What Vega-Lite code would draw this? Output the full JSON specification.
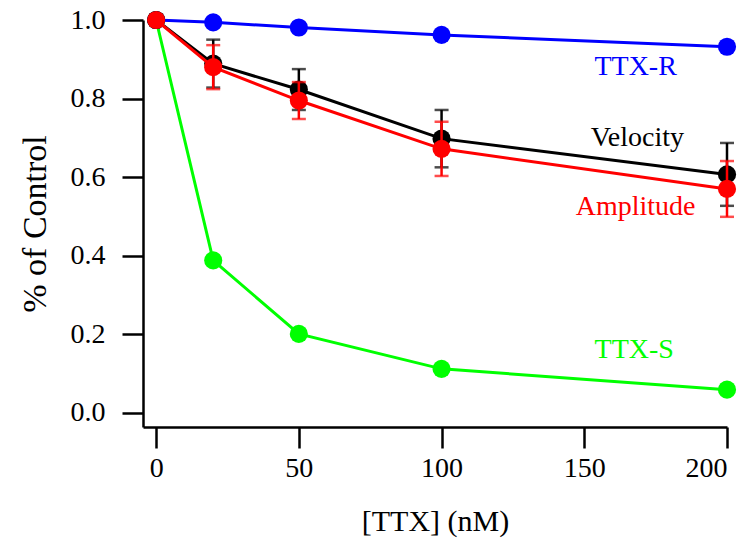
{
  "$schema": "https://vega.github.io/schema/vega-lite/v6.json",
  "width": 584,
  "height": 407,
  "autosize": {"type": "none"},
  "padding": {"left": 143, "top": 20, "right": 24, "bottom": 117},
  "config": {
    "font": "Liberation Serif",
    "view": {"stroke": null},
    "axis": {
      "grid": false,
      "domainColor": "black",
      "domainWidth": 2.5,
      "tickColor": "black",
      "tickWidth": 2.5,
      "tickSize": 21,
      "labelFont": "Liberation Serif",
      "labelFontSize": 28,
      "labelColor": "black",
      "titleFont": "Liberation Serif",
      "titleFontSize": 30,
      "titleFontWeight": "normal",
      "titleColor": "black"
    }
  },
  "datasets": {
    "pts": [
      {"s": "TTX-S", "x": 0, "y": 1.0, "err": 0},
      {"s": "TTX-S", "x": 20, "y": 0.388, "err": 0},
      {"s": "TTX-S", "x": 50, "y": 0.201, "err": 0},
      {"s": "TTX-S", "x": 100, "y": 0.112, "err": 0},
      {"s": "TTX-S", "x": 200, "y": 0.059, "err": 0},
      {"s": "TTX-R", "x": 0, "y": 1.0, "err": 0},
      {"s": "TTX-R", "x": 20, "y": 0.994, "err": 0},
      {"s": "TTX-R", "x": 50, "y": 0.981, "err": 0},
      {"s": "TTX-R", "x": 100, "y": 0.962, "err": 0},
      {"s": "TTX-R", "x": 200, "y": 0.932, "err": 0},
      {"s": "Velocity", "x": 0, "y": 1.0, "err": 0},
      {"s": "Velocity", "x": 20, "y": 0.889, "err": 0.061},
      {"s": "Velocity", "x": 50, "y": 0.823, "err": 0.052},
      {"s": "Velocity", "x": 100, "y": 0.698, "err": 0.073},
      {"s": "Velocity", "x": 200, "y": 0.607, "err": 0.08},
      {"s": "Amplitude", "x": 0, "y": 1.0, "err": 0},
      {"s": "Amplitude", "x": 20, "y": 0.88, "err": 0.056},
      {"s": "Amplitude", "x": 50, "y": 0.795, "err": 0.047},
      {"s": "Amplitude", "x": 100, "y": 0.672, "err": 0.069},
      {"s": "Amplitude", "x": 200, "y": 0.57, "err": 0.071}
    ],
    "labels": [
      {"label": "TTX-R", "x": 168, "y": 0.88, "c": "#0000ff"},
      {"label": "Velocity", "x": 168.6, "y": 0.7, "c": "#000000"},
      {"label": "Amplitude", "x": 168, "y": 0.524, "c": "#ff0000"},
      {"label": "TTX-S", "x": 167.5, "y": 0.16, "c": "#00ff00"}
    ]
  },
  "data": {"name": "pts"},
  "encoding": {
    "x": {
      "field": "x",
      "type": "quantitative",
      "scale": {"domain": [-4.6, 200], "nice": false, "zero": false},
      "axis": {"title": "[TTX] (nM)", "values": [0, 50, 100, 150, 200], "labelPadding": 6, "titlePadding": 24}
    },
    "y": {
      "field": "y",
      "type": "quantitative",
      "scale": {"domain": [-0.036, 1.0], "nice": false, "zero": false},
      "axis": {"title": "% of Control", "titleFontSize": 34, "values": [0, 0.2, 0.4, 0.6, 0.8, 1.0], "format": ".1f", "labelPadding": 17, "titlePadding": 18}
    }
  },
  "layer": [
    {
      "transform": [{"filter": "datum.s === 'TTX-S'"}],
      "layer": [
        {"mark": {"type": "line", "color": "#00ff00", "strokeWidth": 3}},
        {"mark": {"type": "circle", "color": "#00ff00", "size": 330, "opacity": 1}}
      ]
    },
    {
      "transform": [{"filter": "datum.s === 'TTX-R'"}],
      "layer": [
        {"mark": {"type": "line", "color": "#0000ff", "strokeWidth": 3}},
        {"mark": {"type": "circle", "color": "#0000ff", "size": 330, "opacity": 1}}
      ]
    },
    {
      "transform": [{"filter": "datum.s === 'Velocity'"}],
      "layer": [
        {"mark": {"type": "line", "color": "#000000", "strokeWidth": 3}},
        {"mark": {"type": "circle", "color": "#000000", "size": 330, "opacity": 1}},
        {
          "transform": [{"filter": "datum.err > 0"}],
          "mark": {"type": "errorbar", "color": "#000000", "thickness": 2.5, "ticks": {"size": 14, "thickness": 2.5}},
          "encoding": {"yError": {"field": "err"}}
        }
      ]
    },
    {
      "transform": [{"filter": "datum.s === 'Amplitude'"}],
      "layer": [
        {"mark": {"type": "line", "color": "#ff0000", "strokeWidth": 3}},
        {"mark": {"type": "circle", "color": "#ff0000", "size": 330, "opacity": 1}},
        {
          "transform": [{"filter": "datum.err > 0"}],
          "mark": {"type": "errorbar", "color": "#ff0000", "thickness": 2.5, "ticks": {"size": 14, "thickness": 2.5}},
          "encoding": {"yError": {"field": "err"}}
        }
      ]
    },
    {
      "data": {"name": "labels"},
      "mark": {"type": "text", "font": "Liberation Serif", "fontSize": 28, "align": "center", "baseline": "middle"},
      "encoding": {
        "text": {"field": "label"},
        "color": {"field": "c", "type": "nominal", "scale": null}
      }
    }
  ]
}
